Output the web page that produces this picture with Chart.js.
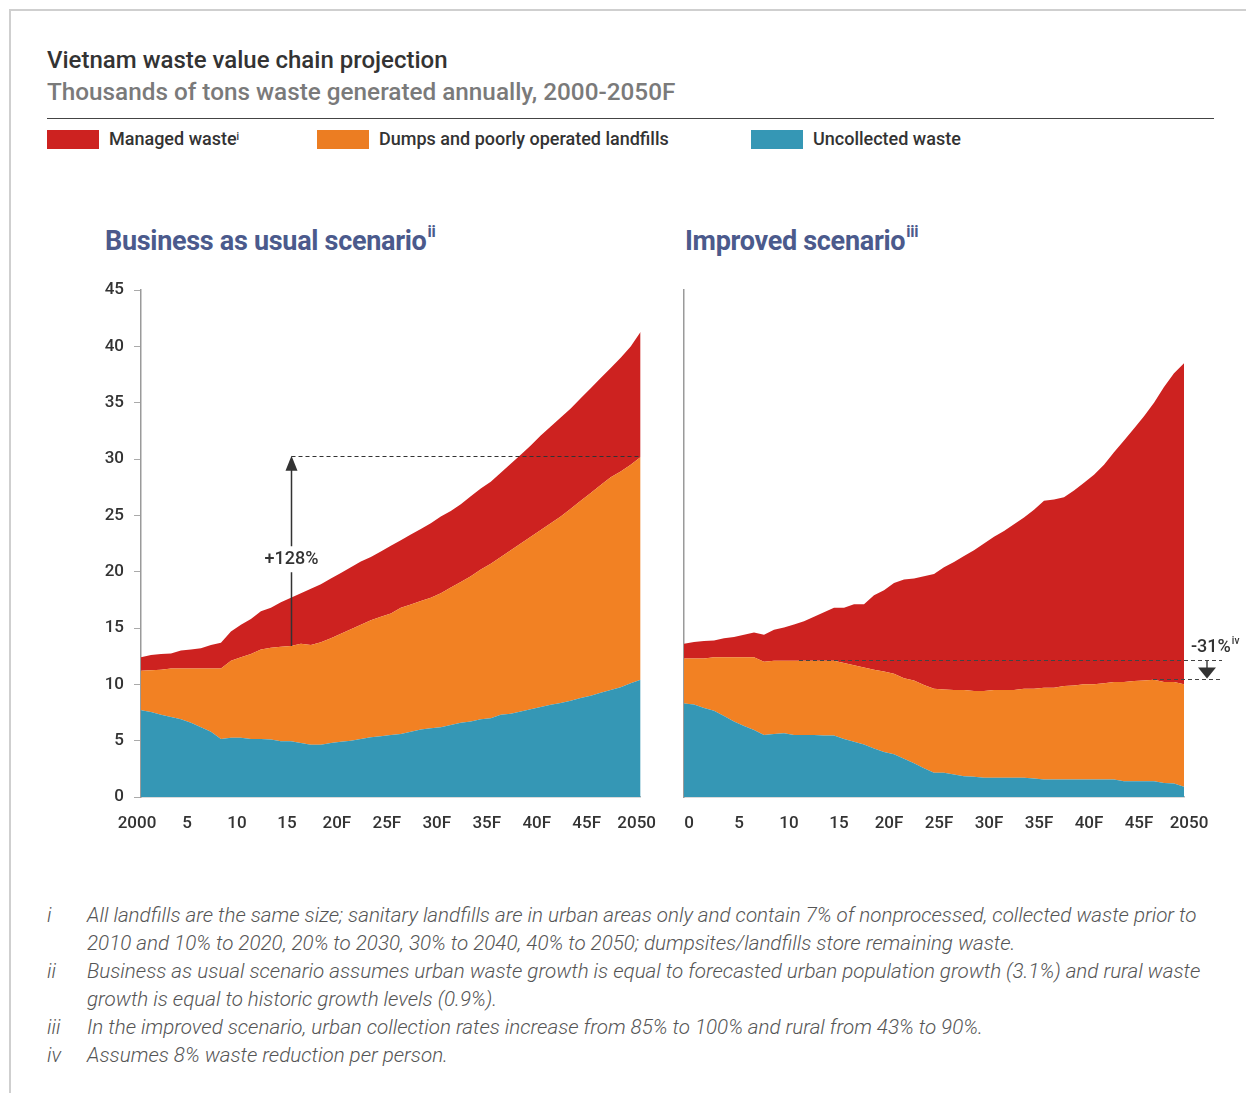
<!DOCTYPE html>
<html>
<head>
<meta charset="utf-8">
<script src="https://cdn.jsdelivr.net/npm/chart.js@4.4.0/dist/chart.umd.min.js"></script>
<style>
  html,body{margin:0;padding:0;background:#fff;}
  body{font-family:Roboto,"Noto Sans",sans-serif;}
  #page{position:relative;width:1246px;height:1093px;overflow:hidden;background:#fff;}
  .frame{position:absolute;left:9px;top:9px;width:1400px;height:1400px;border-top:2px solid #cfcfcf;border-left:2px solid #cfcfcf;}
  .title{position:absolute;left:47px;top:46px;font-size:24px;line-height:28px;color:#333;font-weight:500;white-space:nowrap;}
  .subtitle{position:absolute;left:47px;top:78px;font-size:24.3px;line-height:28px;color:#7a7a7a;font-weight:500;white-space:nowrap;}
  .rule{position:absolute;left:47px;top:118px;width:1167px;height:0;border-top:1.5px solid #444;}
  .lg{position:absolute;top:130px;height:19px;width:52px;}
  .lgt{position:absolute;top:129px;font-size:18px;color:#333;font-weight:500;white-space:nowrap;line-height:20px;}
  .lgt sup{font-size:10px;vertical-align:top;position:relative;top:-2px;}
  .ptitle{position:absolute;top:225px;font-size:27px;line-height:32px;font-weight:700;color:#4b5a8c;white-space:nowrap;letter-spacing:-0.3px;}
  .ptitle sup{font-size:16px;line-height:16px;vertical-align:top;position:relative;top:-1px;margin-left:1px;}
  canvas{position:absolute;}
  .fn{position:absolute;left:47px;font-size:20.6px;font-style:italic;font-weight:300;color:#555;white-space:nowrap;line-height:28px;}
  .fn .n{position:absolute;left:0;}
  .fn .t{position:absolute;left:40px;}
</style>
</head>
<body>
<div id="page">
  <div class="frame"></div>
  <div class="title">Vietnam waste value chain projection</div>
  <div class="subtitle">Thousands of tons waste generated annually, 2000-2050F</div>
  <div class="rule"></div>

  <div class="lg" style="left:47px;background:#cd2220"></div>
  <div class="lgt" style="left:109px">Managed waste<sup>i</sup></div>
  <div class="lg" style="left:317px;background:#ec7d22"></div>
  <div class="lgt" style="left:379px">Dumps and poorly operated landfills</div>
  <div class="lg" style="left:751px;background:#3597b5"></div>
  <div class="lgt" style="left:813px">Uncollected waste</div>

  <div class="ptitle" style="left:105px">Business as usual scenario<sup>ii</sup></div>
  <div class="ptitle" style="left:685px">Improved scenario<sup>iii</sup></div>

  <canvas id="bau" width="577" height="567" style="left:100px;top:270px;width:577px;height:567px"></canvas>
  <canvas id="imp" width="586" height="567" style="left:660px;top:270px;width:586px;height:567px"></canvas>

  <div class="fn" style="top:901px;width:1190px;height:56px">
    <span class="n">i</span>
    <span class="t">All landfills are the same size; sanitary landfills are in urban areas only and contain 7% of nonprocessed, collected waste prior to<br>2010 and 10% to 2020, 20% to 2030, 30% to 2040, 40% to 2050; dumpsites/landfills store remaining waste.</span>
  </div>
  <div class="fn" style="top:957px;width:1190px;height:56px">
    <span class="n">ii</span>
    <span class="t">Business as usual scenario assumes urban waste growth is equal to forecasted urban population growth (3.1%) and rural waste<br>growth is equal to historic growth levels (0.9%).</span>
  </div>
  <div class="fn" style="top:1013px;width:1190px;height:28px">
    <span class="n">iii</span>
    <span class="t">In the improved scenario, urban collection rates increase from 85% to 100% and rural from 43% to 90%.</span>
  </div>
  <div class="fn" style="top:1041px;width:1190px;height:28px">
    <span class="n">iv</span>
    <span class="t">Assumes 8% waste reduction per person.</span>
  </div>
</div>

<script>
// ---------- DATA ----------
const years = [];
for (let y = 2000; y <= 2050; y++) years.push(y);

const bauTickLabels = ['2000','5','10','15','20F','25F','30F','35F','40F','45F','2050'];
const impTickLabels = ['0','5','10','15','20F','25F','30F','35F','40F','45F','2050'];

// Business as usual scenario (thousands of tons)
const bauUncollected = [7.7,7.55,7.3,7.1,6.9,6.6,6.2,5.8,5.15,5.25,
  5.25,5.15,5.15,5.1,4.95,4.95,4.8,4.65,4.65,4.8,
  4.9,5.0,5.15,5.3,5.4,5.5,5.6,5.8,6.0,6.1,
  6.2,6.4,6.6,6.7,6.9,7.0,7.3,7.4,7.6,7.8,
  8.0,8.2,8.35,8.55,8.8,9.0,9.25,9.5,9.75,10.1,10.4];
const bauDumps = [3.5,3.7,4.0,4.3,4.5,4.8,5.2,5.6,6.25,6.85,
  7.15,7.55,7.95,8.15,8.4,8.45,8.8,8.85,9.1,9.3,
  9.6,9.9,10.15,10.4,10.6,10.8,11.2,11.3,11.4,11.6,
  11.9,12.2,12.5,12.9,13.3,13.7,14.0,14.5,14.9,15.3,
  15.7,16.1,16.55,17.05,17.5,18.0,18.45,18.9,19.15,19.4,19.8];
const bauManaged = [1.2,1.35,1.4,1.35,1.6,1.7,1.8,2.1,2.3,2.6,
  2.9,3.1,3.4,3.55,3.95,4.3,4.5,5.0,5.15,5.3,
  5.4,5.5,5.6,5.6,5.8,6.0,6.0,6.2,6.4,6.6,
  6.8,6.8,6.9,7.1,7.2,7.3,7.5,7.7,7.9,8.1,
  8.4,8.6,8.8,8.9,9.1,9.3,9.5,9.7,10.1,10.5,11.1];

// Improved scenario (thousands of tons)
const impUncollected = [8.3,8.2,7.9,7.65,7.2,6.7,6.3,5.95,5.5,5.6,
  5.65,5.5,5.5,5.5,5.45,5.45,5.15,4.9,4.65,4.3,
  4.0,3.8,3.4,3.0,2.55,2.15,2.15,2.0,1.85,1.8,
  1.7,1.7,1.7,1.7,1.7,1.65,1.55,1.55,1.55,1.55,
  1.55,1.55,1.55,1.55,1.4,1.4,1.4,1.4,1.25,1.2,0.9];
const impDumps = [4.0,4.1,4.4,4.75,5.2,5.7,6.1,6.45,6.5,6.5,
  6.45,6.6,6.6,6.6,6.65,6.65,6.75,6.8,6.85,7.0,
  7.15,7.15,7.15,7.35,7.4,7.45,7.4,7.5,7.65,7.6,
  7.7,7.8,7.8,7.8,7.9,7.95,8.15,8.15,8.3,8.35,
  8.45,8.45,8.55,8.65,8.8,8.9,8.95,9.0,8.95,9.0,9.1];
const impManaged = [1.3,1.45,1.55,1.5,1.7,1.8,2.0,2.2,2.4,2.75,
  2.95,3.2,3.5,3.9,4.3,4.7,4.9,5.4,5.6,6.6,
  7.2,8.05,8.75,9.05,9.65,10.2,10.85,11.35,11.9,12.5,
  13.1,13.6,14.1,14.7,15.2,15.9,16.6,16.7,16.75,17.3,
  17.9,18.6,19.4,20.4,21.45,22.4,23.45,24.6,26.2,27.4,28.5];

// Annotations
const bauArrowIndex = 15, bauArrowFrom = 13.4, bauArrowTo = 30.3, bauArrowLabel = '+128%', bauLabelValue = 21.1;
const impUpperLevel = 12.15, impLowerLevel = 10.45, impUpperStart = 11.5, impLowerStart = 46.9;
const impLabel = '-31%', impLabelSup = 'iv', impLabelValue = 13.25;

// ---------- COLORS ----------
const C_RED = '#cd2220', C_ORANGE = '#f28123', C_BLUE = '#3597b5';

Chart.defaults.font.family = 'Roboto, "Noto Sans", sans-serif';
Chart.defaults.color = '#333';
Chart.defaults.animation = false;

function datasets(unc, dumps, managed) {
  const base = {pointRadius: 0, pointHoverRadius: 0, borderWidth: 0, tension: 0};
  return [
    Object.assign({label: 'Uncollected waste', data: unc, backgroundColor: C_BLUE, borderColor: C_BLUE, fill: 'origin'}, base),
    Object.assign({label: 'Dumps and poorly operated landfills', data: dumps, backgroundColor: C_ORANGE, borderColor: C_ORANGE, fill: '-1'}, base),
    Object.assign({label: 'Managed waste', data: managed, backgroundColor: C_RED, borderColor: C_RED, fill: '-1'}, base)
  ];
}

function xScale(tickLabels, labelOffset) {
  return {
    type: 'category',
    offset: false,
    grid: {display: false, drawTicks: false},
    border: {display: true, color: '#b5b5b5', width: 1.5},
    ticks: {
      autoSkip: false, maxRotation: 0, minRotation: 0, padding: 17, labelOffset: labelOffset,
      font: {size: 17, weight: 500}, color: '#333',
      callback: (v, i) => (i % 5 === 0 ? tickLabels[i / 5] : null)
    },
    afterFit: s => { s.height = 40; }
  };
}

const bauPlugin = {
  id: 'bauAnno',
  afterDatasetsDraw(chart) {
    const {ctx, scales: {x, y}, chartArea} = chart;
    const px = Math.round(x.getPixelForValue(bauArrowIndex)) + 0.5;
    const yFrom = y.getPixelForValue(bauArrowFrom);
    const yTo = y.getPixelForValue(bauArrowTo);
    const yLab = y.getPixelForValue(bauLabelValue);
    ctx.save();
    ctx.strokeStyle = '#333'; ctx.fillStyle = '#333';
    ctx.lineWidth = 1; ctx.setLineDash([4, 3]);
    ctx.beginPath(); ctx.moveTo(px, Math.round(yTo) + 0.5); ctx.lineTo(chartArea.right, Math.round(yTo) + 0.5); ctx.stroke();
    ctx.setLineDash([]);
    ctx.lineWidth = 1.5;
    ctx.beginPath();
    ctx.moveTo(px, yFrom); ctx.lineTo(px, yLab + 13);
    ctx.moveTo(px, yLab - 13); ctx.lineTo(px, yTo + 12);
    ctx.stroke();
    ctx.beginPath(); ctx.moveTo(px, yTo); ctx.lineTo(px - 6, yTo + 15); ctx.lineTo(px + 6, yTo + 15); ctx.closePath(); ctx.fill();
    ctx.font = '500 18px Roboto, sans-serif';
    ctx.textAlign = 'center'; ctx.textBaseline = 'middle';
    ctx.fillText(bauArrowLabel, px, yLab);
    ctx.restore();
  }
};

const impPlugin = {
  id: 'impAnno',
  afterDatasetsDraw(chart) {
    const {ctx, scales: {x, y}, chartArea} = chart;
    const yU = Math.round(y.getPixelForValue(impUpperLevel)) + 0.5;
    const yL = Math.round(y.getPixelForValue(impLowerLevel)) + 0.5;
    const xEnd = chartArea.right + 38;
    const ax = chartArea.right + 23;
    ctx.save();
    ctx.strokeStyle = '#444'; ctx.fillStyle = '#333';
    ctx.lineWidth = 1; ctx.setLineDash([4, 3]);
    ctx.beginPath(); ctx.moveTo(x.getPixelForValue(impUpperStart), yU); ctx.lineTo(xEnd, yU); ctx.stroke();
    ctx.beginPath(); ctx.moveTo(x.getPixelForValue(impLowerStart), yL); ctx.lineTo(xEnd, yL); ctx.stroke();
    ctx.setLineDash([]);
    ctx.lineWidth = 1.5;
    ctx.beginPath(); ctx.moveTo(ax, yU); ctx.lineTo(ax, yU + 8); ctx.stroke();
    ctx.beginPath(); ctx.moveTo(ax - 9, yU + 7); ctx.lineTo(ax + 9, yU + 7); ctx.lineTo(ax, yL - 1); ctx.closePath(); ctx.fill();
    const yLab = y.getPixelForValue(impLabelValue);
    ctx.font = '500 18px Roboto, sans-serif';
    ctx.textAlign = 'left'; ctx.textBaseline = 'middle';
    const lx = chartArea.right + 7;
    ctx.fillText(impLabel, lx, yLab);
    const w = ctx.measureText(impLabel).width;
    ctx.font = '500 10px Roboto, sans-serif';
    ctx.fillText(impLabelSup, lx + w + 1, yLab - 6);
    ctx.restore();
  }
};

new Chart(document.getElementById('bau'), {
  type: 'line',
  data: {labels: years, datasets: datasets(bauUncollected, bauDumps, bauManaged)},
  options: {
    responsive: false,
    layout: {padding: {top: 20, right: 25, left: 0, bottom: 0}},
    plugins: {legend: {display: false}, tooltip: {enabled: false}},
    scales: {
      x: xScale(bauTickLabels, -4),
      y: {
        stacked: true, min: 0, max: 45,
        grid: {display: true, drawOnChartArea: false, drawTicks: true, tickLength: 7, color: '#aaa', lineWidth: 1},
        border: {display: true, color: '#9a9a9a', width: 1.5},
        ticks: {stepSize: 5, padding: 10, font: {size: 17, weight: 500}, color: '#333'},
        afterFit: s => { s.width = 41; }
      }
    }
  },
  plugins: [bauPlugin]
});

new Chart(document.getElementById('imp'), {
  type: 'line',
  data: {labels: years, datasets: datasets(impUncollected, impDumps, impManaged)},
  options: {
    responsive: false,
    layout: {padding: {top: 20, right: 62, left: 0, bottom: 0}},
    plugins: {legend: {display: false}, tooltip: {enabled: false}},
    scales: {
      x: xScale(impTickLabels, 5),
      y: {
        stacked: true, min: 0, max: 45,
        grid: {display: false},
        border: {display: true, color: '#9a9a9a', width: 1.5},
        ticks: {display: false, stepSize: 5},
        afterFit: s => { s.width = 24; }
      }
    }
  },
  plugins: [impPlugin]
});
</script>
</body>
</html>
